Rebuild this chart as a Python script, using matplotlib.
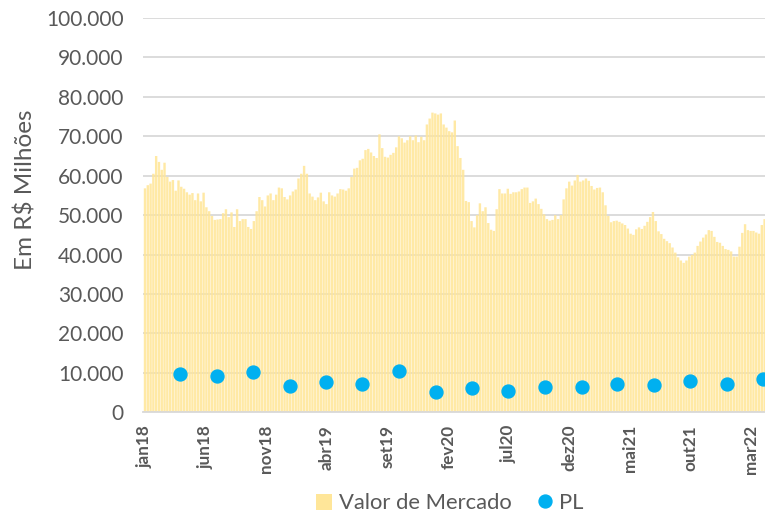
import matplotlib
matplotlib.use("Agg")
import matplotlib.pyplot as plt
import matplotlib.dates as mdates
from matplotlib.patches import Patch
from matplotlib.lines import Line2D
import pandas as pd
import numpy as np

# Weekly market value (R$ thousand millions -> multiplied below), from first week of Jan/2018
valor_mercado = [
    56.8, 57.6, 58.0, 60.5, 65.0, 63.5, 61.5, 63.3, 59.7, 58.5,
    58.9, 56.2, 58.8, 57.2, 56.7, 55.8, 55.2, 55.6, 53.8, 55.5,
    53.5, 55.7, 52.0, 51.0, 49.8, 48.8, 48.9, 49.0, 50.5, 51.5,
    49.5, 50.7, 47.0, 51.5, 48.5, 49.0, 49.0, 47.0, 46.5, 48.5,
    51.0, 54.6, 53.8, 52.2, 55.0, 55.5, 53.8, 55.2, 57.0, 56.8,
    54.6, 54.0, 55.0, 56.0, 56.5, 59.3, 60.5, 62.5, 60.5, 55.5,
    54.7, 53.8, 54.5, 55.7, 53.5, 52.8, 55.8, 55.0, 54.7, 55.5,
    56.6, 56.5, 56.2, 56.8, 59.7, 61.8, 62.0, 63.9, 64.3, 66.5,
    66.8, 65.9, 65.0, 64.5, 70.5, 67.0, 64.8, 64.6, 65.3, 65.8,
    67.2, 70.0, 69.5, 68.4, 69.0, 70.0, 69.0, 70.2, 68.5, 69.9,
    69.0, 73.0, 74.5, 76.0, 75.8, 75.5, 75.8, 73.0, 72.2, 71.3,
    71.0, 74.0, 67.5, 64.5, 61.5, 53.6, 53.3, 48.5, 46.9, 50.0,
    53.0, 51.0, 52.0, 48.0, 46.3, 46.0, 51.5, 56.6, 55.5, 55.5,
    56.7, 55.4, 55.8, 55.8, 56.0, 56.6, 57.0, 57.0, 53.1, 53.5,
    54.2, 52.8, 51.6, 50.2, 49.0, 48.6, 48.8, 50.0, 49.0, 50.0,
    54.0, 56.8, 58.5, 57.5, 58.8, 60.2, 58.5, 58.8, 59.3, 58.7,
    57.4, 56.5, 56.9, 57.0, 55.8, 52.5, 49.8, 48.2, 48.5, 48.6,
    48.3, 47.9, 47.5, 46.6, 45.3, 45.0, 46.4, 46.9, 46.5, 47.3,
    48.3, 49.5, 50.8, 48.5, 45.9, 45.2, 44.0, 43.4, 42.9, 41.8,
    40.5, 39.3, 38.5, 37.9, 38.5, 39.5, 39.9, 40.5, 42.2, 43.3,
    44.3, 45.1, 46.2, 46.0, 44.5, 43.2, 43.0, 42.2, 41.4, 41.2,
    40.8, 39.5, 39.5, 42.0, 45.5, 47.7, 46.2, 46.0, 46.0, 45.6,
    45.3, 47.5, 49.0,
]
valor_mercado = [v * 1000 for v in valor_mercado]

# Quarterly PL (R$ millions)
pl_quarters = ["2018-03-31", "2018-06-30", "2018-09-30", "2018-12-31",
               "2019-03-31", "2019-06-30", "2019-09-30", "2019-12-31",
               "2020-03-31", "2020-06-30", "2020-09-30", "2020-12-31",
               "2021-03-31", "2021-06-30", "2021-09-30", "2021-12-31",
               "2022-03-31"]
pl_values = [9800, 9150, 10100, 6750, 7750, 7100, 10600, 5250,
             6050, 5400, 6300, 6400, 7200, 6900, 7850, 7250, 8500]

tick_dates = ["2018-01-01", "2018-06-01", "2018-11-01", "2019-04-01",
              "2019-09-01", "2020-02-01", "2020-07-01", "2020-12-01",
              "2021-05-01", "2021-10-01", "2022-03-01"]
tick_labels = ["jan18", "jun18", "nov18", "abr19", "set19", "fev20",
               "jul20", "dez20", "mai21", "out21", "mar22"]

week_dates = pd.date_range("2018-01-01", periods=len(valor_mercado), freq="7D")

FONT = ["Lato", "DejaVu Sans"]
GRAY = "#595959"
plt.rcParams["font.family"] = FONT

fig = plt.figure(figsize=(7.65, 5.14), dpi=100)
ax = fig.add_axes([143 / 765, 1 - 412.3 / 514, (765 - 143) / 765, (412.3 - 18) / 514])

ax.bar(mdates.date2num(week_dates), valor_mercado, width=6.0,
       color="#FFE699", alpha=0.88, linewidth=0, zorder=2, snap=False)
ax.plot(mdates.date2num(pd.to_datetime(pl_quarters)), pl_values, "o",
        color="#00B0F0", markersize=9.3, zorder=3, clip_on=False)

ax.set_ylim(0, 100000)
ax.set_yticks(np.arange(0, 100001, 10000))
ax.set_yticklabels(["0" if v == 0 else f"{v // 1000}.000" for v in range(0, 100001, 10000)])
ax.set_xlim(mdates.date2num(pd.Timestamp("2017-12-27")),
            mdates.date2num(pd.Timestamp("2022-04-05")))
ax.set_xticks(mdates.date2num(pd.to_datetime(tick_dates)))
ax.set_xticklabels(tick_labels, rotation=90, fontweight="bold")

ax.grid(axis="y", color="#D9D9D9", linewidth=1.3, zorder=1)
ax.set_axisbelow(True)
for s in ["top", "right", "left"]:
    ax.spines[s].set_visible(False)
ax.spines["bottom"].set_color("#D9D9D9")
ax.spines["bottom"].set_linewidth(1.3)
ax.tick_params(axis="both", length=0, colors=GRAY)
ax.tick_params(axis="y", labelsize=15, pad=14)
ax.tick_params(axis="x", labelsize=12.3, pad=9)

ax.set_ylabel("Em R$ Milhões", fontsize=17.5, color=GRAY)
ax.yaxis.set_label_coords(-0.172, 0.565)

handles = [Patch(facecolor="#FFE699", edgecolor="none"),
           Line2D([], [], marker="o", color="#00B0F0", linestyle="none", markersize=9.3)]
fig.legend(handles, ["Valor de Mercado", "PL"], loc="lower center",
           bbox_to_anchor=(0.588, -0.037), ncol=2, frameon=False,
           fontsize=15.8, labelcolor=GRAY, handlelength=0.75, handleheight=0.75,
           handletextpad=0.3, columnspacing=1.13)

fig.savefig("out.png", dpi=100)
